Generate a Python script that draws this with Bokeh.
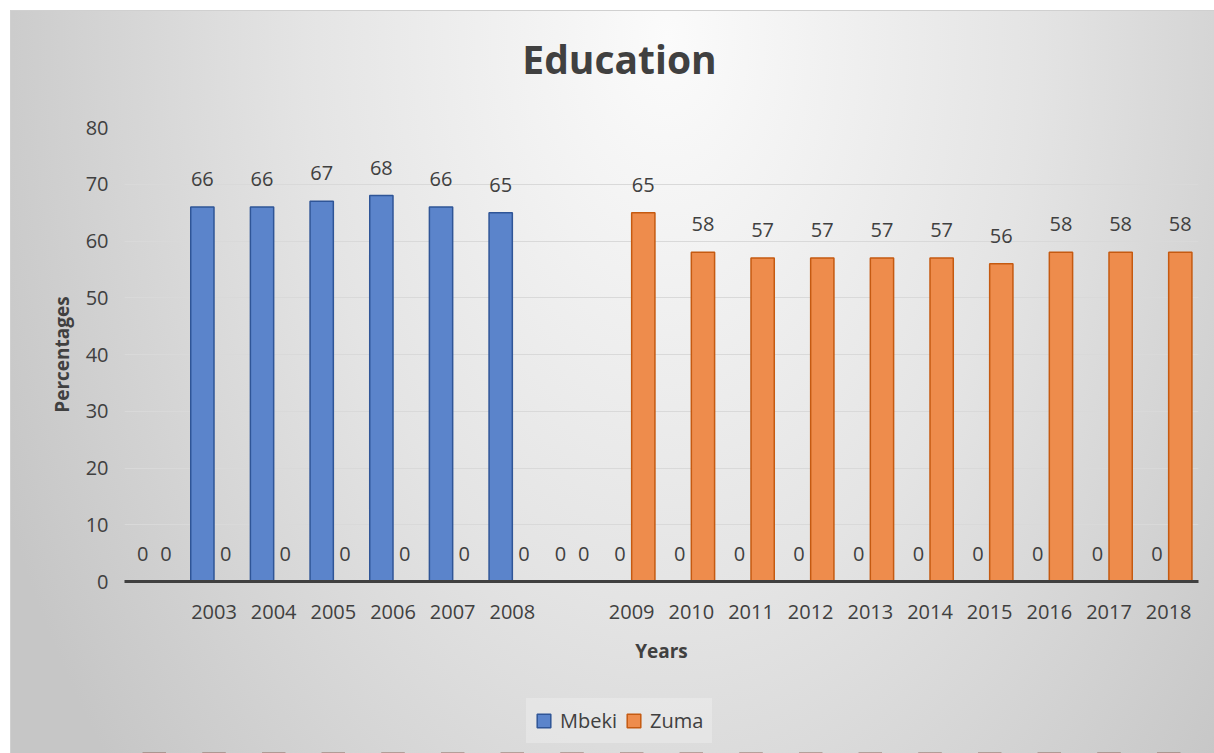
from bokeh.plotting import figure
from bokeh.layouts import column
from bokeh.models import (ColumnDataSource, FactorRange, Range1d, FixedTicker,
                          LabelSet, Label, Legend, LegendItem)
from bokeh.core.properties import value
from bokeh.transform import dodge
from bokeh.embed import file_html
from bokeh.resources import INLINE

# ---- data ----
categories = [" ", "2003", "2004", "2005", "2006", "2007", "2008", "  ",
              "2009", "2010", "2011", "2012", "2013", "2014", "2015",
              "2016", "2017", "2018"]
mbeki = [0, 66, 66, 67, 68, 66, 65, 0, 0, 0, 0, 0, 0, 0, 0, 0, 0, 0]
zuma = [0, 0, 0, 0, 0, 0, 0, 0, 65, 58, 57, 57, 57, 57, 56, 58, 58, 58]
y_ticks = [0, 10, 20, 30, 40, 50, 60, 70, 80]
series_names = ["Mbeki", "Zuma"]
title_text = "Education"
x_title = "Years"
y_title = "Percentages"

FONT = "Open Sans"
TXT = "#404040"
BLUE, BLUE_LINE = "#5b84cb", "#2f5597"
ORANGE, ORANGE_LINE = "#ee8c4c", "#c55a11"

src = ColumnDataSource(dict(
    cat=categories,
    mbeki=mbeki,
    zuma=zuma,
    mbeki_lbl=[str(v) for v in mbeki],
    zuma_lbl=[str(v) for v in zuma],
))

# ---- title strip ----
tt = figure(width=1214, height=100, x_range=Range1d(0, 1), y_range=Range1d(0, 1),
            output_backend="svg", toolbar_location=None, title=None,
            x_axis_location=None, y_axis_location=None, min_border=0)
tt.background_fill_alpha = 0
tt.border_fill_alpha = 0
tt.outline_line_color = None
tt.grid.visible = False
tt.add_layout(Label(x=(619 - 124) / 1074, y=0.25, y_offset=17, text=title_text,
                    text_align="center", text_baseline="alphabetic",
                    text_font=FONT, text_font_size="39px", text_font_style="bold",
                    text_color=TXT))

# ---- main chart ----
p = figure(x_range=FactorRange(*categories), y_range=Range1d(0, 80),
           width=1214, height=572, output_backend="svg", toolbar_location=None,
           title=None, min_border_left=124, min_border_right=16,
           min_border_top=27, min_border_bottom=91)
p.background_fill_alpha = 0
p.border_fill_alpha = 0
p.outline_line_color = None

W = 0.39
p.vbar(x=dodge("cat", -0.195, range=p.x_range), top="mbeki", width=W,
       source=src, fill_color=BLUE, line_color=BLUE_LINE, line_width=1.5)
p.vbar(x=dodge("cat", 0.195, range=p.x_range), top="zuma", width=W,
       source=src, fill_color=ORANGE, line_color=ORANGE_LINE, line_width=1.5)

for off, ycol, tcol in [(-0.195, "mbeki", "mbeki_lbl"), (0.195, "zuma", "zuma_lbl")]:
    p.add_layout(LabelSet(x=dodge("cat", off, range=p.x_range), y=ycol, text=tcol,
                          source=src, text_align="center", text_baseline="alphabetic",
                          y_offset=21, text_font=value(FONT), text_font_size="20px",
                          text_color=TXT))

p.xaxis.axis_line_color = TXT
p.xaxis.axis_line_width = 3
p.xaxis.major_tick_line_color = None
p.xaxis.minor_tick_line_color = None
p.xaxis.major_tick_out = 0
p.xaxis.major_tick_in = 0
p.xaxis.major_label_text_font = FONT
p.xaxis.major_label_text_font_size = "20px"
p.xaxis.major_label_text_color = TXT
p.xaxis.major_label_standoff = 16
p.xaxis.axis_label = x_title
p.xaxis.axis_label_text_font = FONT
p.xaxis.axis_label_text_font_size = "19px"
p.xaxis.axis_label_text_font_style = "bold"
p.xaxis.axis_label_text_color = TXT
p.xaxis.axis_label_standoff = 10

p.yaxis.ticker = FixedTicker(ticks=y_ticks)
p.yaxis.axis_line_color = None
p.yaxis.major_tick_line_color = None
p.yaxis.minor_tick_line_color = None
p.yaxis.major_tick_out = 0
p.yaxis.major_tick_in = 0
p.yaxis.major_label_text_font = FONT
p.yaxis.major_label_text_font_size = "20px"
p.yaxis.major_label_text_color = TXT
p.yaxis.major_label_standoff = 16
p.yaxis.axis_label = y_title
p.yaxis.axis_label_text_font = FONT
p.yaxis.axis_label_text_font_size = "19px"
p.yaxis.axis_label_text_font_style = "bold"
p.yaxis.axis_label_text_color = TXT
p.yaxis.axis_label_standoff = 8

p.xgrid.grid_line_color = None
p.ygrid.ticker = FixedTicker(ticks=y_ticks)
p.ygrid.grid_line_color = "#d9d9d9"
p.ygrid.grid_line_width = 1

# ---- legend strip ----
lg = figure(width=1214, height=81, x_range=FactorRange(*categories),
            y_range=Range1d(1000, 1001), output_backend="svg", toolbar_location=None,
            title=None, x_axis_location=None, y_axis_location=None, min_border=0)
lg.background_fill_alpha = 0
lg.border_fill_alpha = 0
lg.outline_line_color = None
lg.grid.visible = False
# same series, outside this strip's visible range: only their legend swatches show
l1 = lg.vbar(x="cat", top="mbeki", width=W, source=src,
             fill_color=BLUE, line_color=BLUE_LINE, line_width=1.5)
l2 = lg.vbar(x="cat", top="zuma", width=W, source=src,
             fill_color=ORANGE, line_color=ORANGE_LINE, line_width=1.5)

legend = Legend(items=[LegendItem(label=series_names[0], renderers=[l1]),
                       LegendItem(label=series_names[1], renderers=[l2])],
                location=(402, 10), orientation="horizontal",
                glyph_width=17, glyph_height=17, label_standoff=8, spacing=8,
                padding=9, margin=0, label_text_font=FONT,
                label_text_font_size="20px", label_text_color=TXT,
                background_fill_color="#ffffff", background_fill_alpha=0.25,
                border_line_alpha=0)
lg.add_layout(legend)

page = column(tt, p, lg, spacing=0, styles={
    "background": "radial-gradient(ellipse 60% 150% at 55% 5%, #fbfbfb 0%, #e4e4e4 50%, #c6c6c6 100%)",
    "box-shadow": "inset 10px 10px 0 0 #ffffff, inset 11px 11px 0 0 #d0d0d0",
})

open("out.html", "w").write(file_html(page, INLINE))
